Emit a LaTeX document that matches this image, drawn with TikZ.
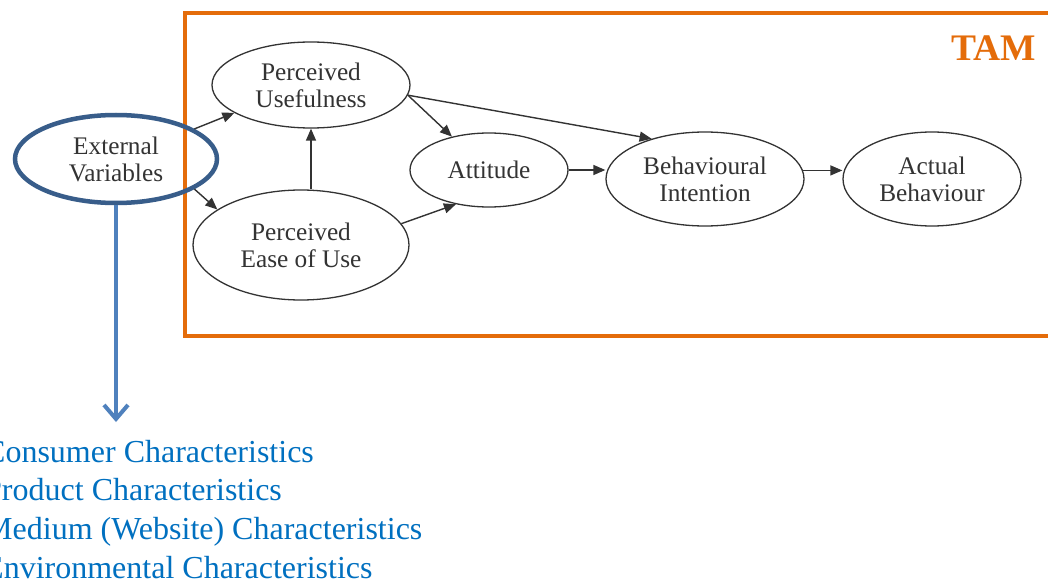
\documentclass[tikz,border=0pt]{standalone}
\usepackage{fontspec}
\setmainfont{Liberation Serif}
\usetikzlibrary{shapes.geometric,arrows.meta,calc}
\definecolor{tamorange}{HTML}{E46C0A}
\definecolor{evblue}{HTML}{385D8A}
\definecolor{linkblue}{HTML}{4F81BD}
\definecolor{listblue}{HTML}{0070C0}
\definecolor{ink}{HTML}{333333}

\begin{document}
\begin{tikzpicture}[x=1pt,y=-1pt,
  construct/.style={ellipse, draw=ink, line width=1.3pt, inner sep=0pt,
    align=center, text=ink, font=\fontsize{25.3}{27}\selectfont},
  link/.style={draw=ink, line width=1.4pt, -{Triangle[length=12pt,width=10pt]}},
  listitem/.style={anchor=base west, inner sep=0pt, text=listblue,
    font=\fontsize{32}{38.7}\selectfont},
]
\clip (0,0) rectangle (1048,580);
\fill[white] (0,0) rectangle (1048,580);

% TAM frame and title
\draw[tamorange, line width=4pt] (185,13) rectangle (1075,336);
\node[anchor=base east, inner sep=0pt, text=tamorange,
  font=\fontsize{37.5}{40}\selectfont\bfseries] (tam) at (1036,61) {TAM};

% constructs
\node[construct, minimum width=198pt, minimum height=86pt] (pu) at (311,85) {Perceived\\Usefulness};
\node[construct, minimum width=216pt, minimum height=110pt] (peou) at (301,245) {Perceived\\Ease of Use};
\node[construct, minimum width=158pt, minimum height=74pt] (att) at (489,170) {Attitude};
\node[construct, minimum width=198pt, minimum height=94pt] (bi) at (705,179) {Behavioural\\Intention};
\node[construct, minimum width=178pt, minimum height=94pt] (ab) at (932,179) {Actual\\Behaviour};

% external variables
\node[ellipse, draw=evblue, line width=4.5pt, inner sep=0pt, minimum width=202pt,
  minimum height=88pt, align=center, text=ink, font=\fontsize{25.3}{27}\selectfont]
  (ev) at (116,159) {External\\Variables};

% relations of the model
\draw[link] (ev.21) -- (pu.200);
\draw[link] (ev.-21) -- (peou.157);
\draw[link] (pu.south |- peou.north) -- (pu.south);
\draw[link] (pu.-6) -- (att.138);
\draw[link] (pu.-6) -- (bi.143);
\draw[link] (peou.12) -- (att.226);
\draw[link] (att.east) -- (att.east -| bi.west);
\draw[link] (bi.5) -- (bi.5 -| ab.west);

% characteristics behind the external variables
\coordinate (listtop) at (116,422);
\draw[linkblue, line width=4pt, -{Straight Barb[length=14pt,width=24pt]}] (ev.south) -- (listtop);

\node[listitem] (c1) at (-16,462) {Consumer Characteristics};
\node[listitem] (c2) at (-16,500.7) {Product Characteristics};
\node[listitem] (c3) at (-16,539.4) {Medium (Website) Characteristics};
\node[listitem] (c4) at (-16,578.1) {Environmental Characteristics};
\end{tikzpicture}
\end{document}
